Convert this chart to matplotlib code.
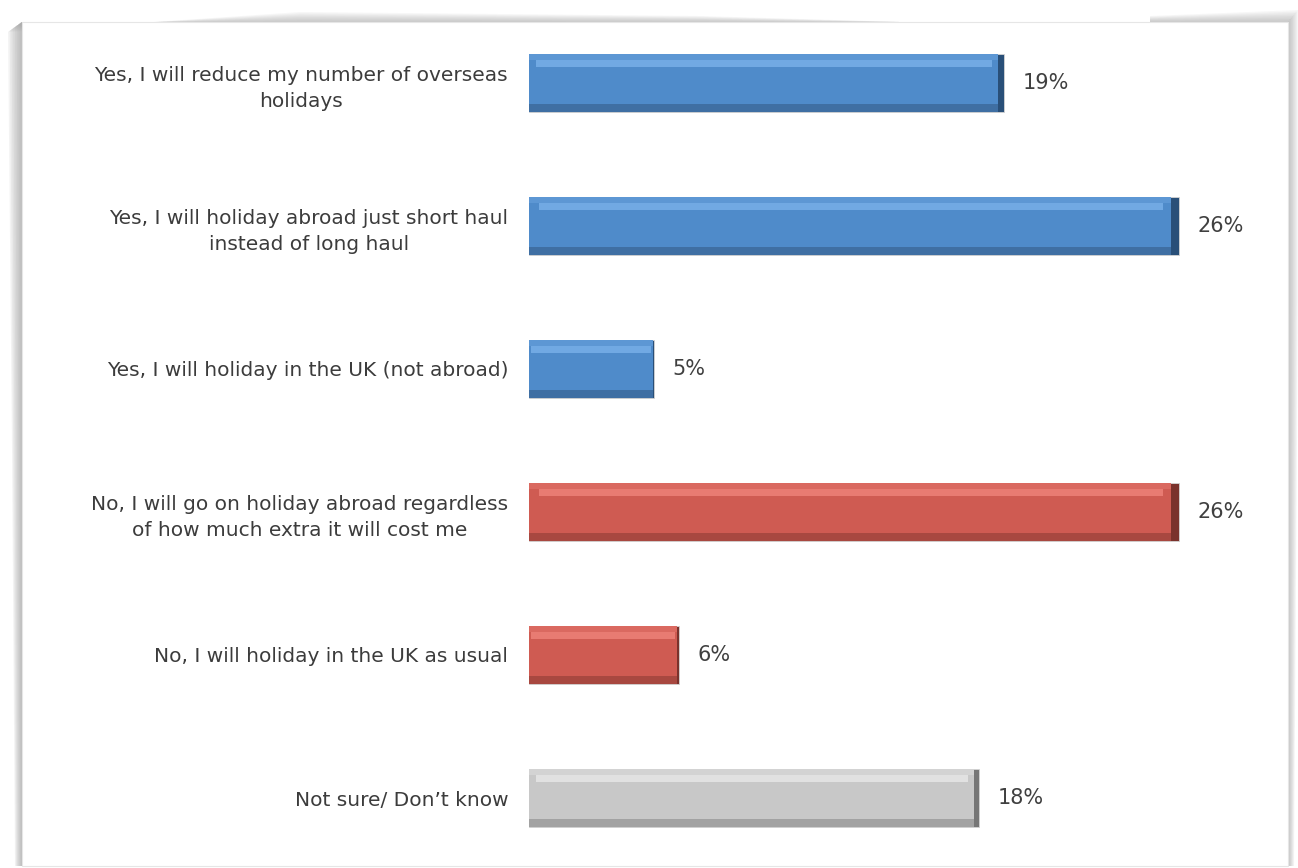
import matplotlib.pyplot as plt
from matplotlib.patches import Polygon, Rectangle

# survey answers, top to bottom
answers = [
    'Yes, I will reduce my number of overseas\nholidays',
    'Yes, I will holiday abroad just short haul\ninstead of long haul',
    'Yes, I will holiday in the UK (not abroad)',
    'No, I will go on holiday abroad regardless\nof how much extra it will cost me',
    'No, I will holiday in the UK as usual',
    'Not sure/ Don\u2019t know',
]
shares = [19, 26, 5, 26, 6, 18]
groups = ['yes', 'yes', 'yes', 'no', 'no', 'unsure']

# main / highlight / bottom bevel / right-end shadow per group
palette = {
    'yes': ('#4f8bca', '#80b6ee', '#3f6fa3', '#294f78'),
    'no': ('#cf5b52', '#f48a81', '#a84840', '#7a322c'),
    'unsure': ('#c8c8c8', '#ededed', '#a2a2a2', '#767676'),
}

W, H = 1298, 868
fig = plt.figure(figsize=(W / 100, H / 100), dpi=100)
fig.patch.set_facecolor('white')


def px(x, y):
    return (x / W, 1 - y / H)


def soft_shadow(outer, inner, steps=8, color='#9a9a9a', alpha=0.09):
    # stack polygons shrinking from the outer outline to the sheet edge
    for k in range(steps):
        t = k / steps
        pts = [(ox + (ix - ox) * t, oy + (iy - oy) * t)
               for (ox, oy), (ix, iy) in zip(outer, inner)]
        fig.add_artist(Polygon([px(*p) for p in pts + inner[::-1]], closed=True,
                               transform=fig.transFigure, facecolor=color,
                               edgecolor='none', alpha=alpha, zorder=0))


# curled page: left, top and right shadows
soft_shadow([(8, 32), (12, 450), (15, 866)], [(22, 22), (22, 450), (22, 866)], alpha=0.11)
soft_shadow([(8, 32), (300, 12), (700, 16), (900, 22)],
            [(22, 22), (300, 22), (700, 22), (900, 22)], alpha=0.08)
soft_shadow([(1150, 16), (1298, 10)], [(1150, 22), (1288, 22)], alpha=0.08)
soft_shadow([(1298, 10), (1298, 300), (1294, 866)],
            [(1288, 22), (1288, 300), (1288, 866)], alpha=0.09)

x0, y0 = px(22, 866)
x1, y1 = px(1288, 22)
fig.add_artist(Rectangle((x0, y0), x1 - x0, y1 - y0, transform=fig.transFigure,
                         facecolor='white', edgecolor='#e6e6e6', lw=0.8, zorder=1))

# axes: 25 px per percent, starting at x=529
left, right = 529, 529 + 25 * 30
top, bottom = 83 - 0.4 * 143, 798 + 0.4 * 143
ax = fig.add_axes([left / W, 1 - bottom / H, (right - left) / W, (bottom - top) / H])
ax.set_zorder(2)
ax.patch.set_alpha(0)

ypos = list(range(len(answers)))
bh = 0.4
for y, v, g in zip(ypos, shares, groups):
    main, light, mid, dark = palette[g]
    # dark base shows on the right end, mid tone along the bottom
    ax.barh(y, v, height=bh, color=dark, edgecolor='#d4d4d4', linewidth=0.6)
    ax.barh(y, v * 0.988, height=bh, color=mid, edgecolor='none')
    ax.barh(y - 0.025, v * 0.988, height=bh - 0.05, color=main, edgecolor='none')
    ax.barh(y - bh / 2 + 0.065, v * 0.96, height=0.05, left=v * 0.015,
            color=light, edgecolor='none', alpha=0.7)
    ax.barh(y - bh / 2 + 0.02, v * 0.988, height=0.04, color=light,
            edgecolor='none', alpha=0.3)
    ax.text(v + 0.75, y, f'{v}%', va='center', ha='left', fontsize=15, color='#404040')

ax.set_xlim(0, 30)
ax.set_ylim(len(answers) - 1 + 0.4, -0.4)
ax.set_yticks(ypos)
ax.set_yticklabels(answers, fontsize=14.5, color='#3c3c3c', linespacing=1.45,
                   multialignment='center')
ax.tick_params(axis='y', length=0, pad=15)
ax.set_xticks([])
for s in ax.spines.values():
    s.set_visible(False)

fig.savefig('out.png', dpi=100)
